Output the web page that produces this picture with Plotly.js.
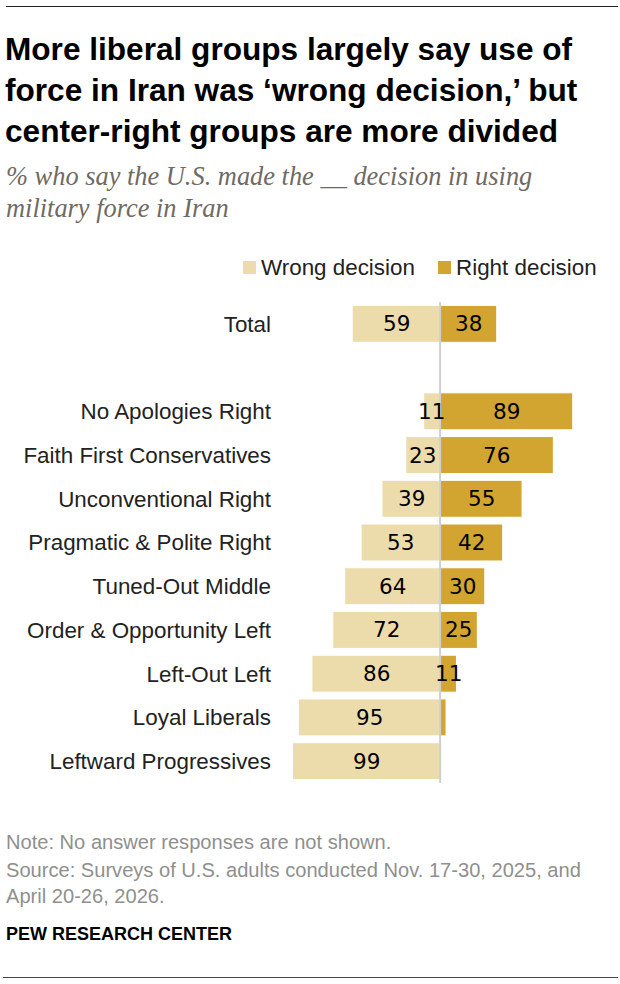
<!DOCTYPE html>
<html><head><meta charset="utf-8">
<script src="https://cdn.plot.ly/plotly-3.0.1.min.js"></script>
<style>html,body{margin:0;padding:0;background:#fff}#c{width:620px;height:984px}</style>
</head><body><div id="c"></div>
<script>
const categories = ["Total"," ","No Apologies Right","Faith First Conservatives","Unconventional Right","Pragmatic & Polite Right","Tuned-Out Middle","Order & Opportunity Left","Left-Out Left","Loyal Liberals","Leftward Progressives"];
const wrongValues = [59,null,11,23,39,53,64,72,86,95,99];
const rightValues = [38,null,89,76,55,42,30,25,11,4,1];
const wrongLabels = ["59","","11","23","39","53","64","72","86","95","99"];
const rightLabels = ["38","","89","76","55","42","30","25","11","",""];
const wrongColor = "#ecdcac", rightColor = "#d1a52f";
const bodyFont = "Liberation Sans", numFont = "DejaVu Sans";
const barText = {family:numFont,size:21.5,color:"#000"};
const wrongTrace = {type:"bar",orientation:"h",name:"Wrong decision",y:categories,x:wrongValues.map(v=>v===null?null:-v),
  marker:{color:wrongColor,line:{color:"#fff",width:1}},hoverinfo:"skip"};
const rightTrace = {type:"bar",orientation:"h",name:"Right decision",y:categories,x:rightValues,
  marker:{color:rightColor,line:{color:"#fff",width:1}},hoverinfo:"skip"};
const px=v=>(984-201-v)/(984-302-201);
const mx=v=>(v-276)/(620-276-20);
const ann=(text,x,y,font)=>({text,x:mx(x),y:px(y),xref:"paper",yref:"paper",xanchor:"left",yanchor:"middle",align:"left",showarrow:false,borderpad:0,font});
const valueAnn=(labels,values,sign)=>labels.map((t,i)=>t?{text:t,x:sign*values[i]/2,y:categories[i],xref:"x",yref:"y",xanchor:"center",yanchor:"middle",showarrow:false,borderpad:0,font:barText}:null).filter(Boolean);
const swatch=(x,color)=>({type:"rect",xref:"paper",yref:"paper",x0:mx(x),x1:mx(x+13),y0:px(261),y1:px(274),fillcolor:color,line:{width:0}});
const serif={size:26.4,color:"#6f6a64",family:"Liberation Serif",style:"italic"};
const foot={size:20.1,color:"#8f8f8f",family:bodyFont};
const legendFont={size:22.4,color:"#222",family:bodyFont};
const layout={width:620,height:984,paper_bgcolor:"#fff",plot_bgcolor:"#fff",
  margin:{l:276,r:20,t:302,b:201},barmode:"relative",bargap:0.155,showlegend:false,
  title:{text:"More liberal groups largely say use of<br>force in Iran was ‘wrong decision,’ but<br>center-right groups are more divided",
    x:5/620,xanchor:"left",xref:"container",y:1-60/984,yanchor:"top",yref:"container",
    font:{family:bodyFont,size:31.6,color:"#000",weight:700}},
  xaxis:{range:[-110.1,107.3],showgrid:false,zeroline:false,showticklabels:false,ticks:"",fixedrange:true},
  yaxis:{type:"category",categoryorder:"array",categoryarray:categories,autorange:"reversed",showgrid:false,zeroline:false,ticks:"",
    tickfont:{family:bodyFont,size:22.4,color:"#222"},ticklabelstandoff:4,fixedrange:true},
  shapes:[
    {type:"line",xref:"paper",yref:"paper",x0:mx(6),x1:mx(618),y0:px(6.5),y1:px(6.5),line:{color:"#222",width:1}},
    {type:"line",xref:"paper",yref:"paper",x0:mx(3),x1:mx(618),y0:px(977.5),y1:px(977.5),line:{color:"#444",width:1}},
    {type:"line",xref:"x",yref:"paper",x0:0,x1:0,y0:0,y1:1,line:{color:"#cfcfcf",width:2},layer:"above"},
    swatch(243,wrongColor),swatch(438,rightColor)
  ],
  annotations:[
    ann("% who say the U.S. made the __ decision in using",5,176,serif),
    ann("military force in Iran",5,208,serif),
    ann("Wrong decision",260,267,legendFont),
    ann("Right decision",455,267,legendFont),
    ann("Note: No answer responses are not shown.",5,842,foot),
    ann("Source: Surveys of U.S. adults conducted Nov. 17-30, 2025, and",5,870,foot),
    ann("April 20-26, 2026.",5,896,foot),
    ann("PEW RESEARCH CENTER",5,934,{size:18,color:"#000",family:bodyFont,weight:700})
  ].concat(valueAnn(wrongLabels,wrongValues,-1),valueAnn(rightLabels,rightValues,1))
};
Plotly.newPlot("c",[wrongTrace,rightTrace],layout,{displayModeBar:false,staticPlot:true});
</script></body></html>
